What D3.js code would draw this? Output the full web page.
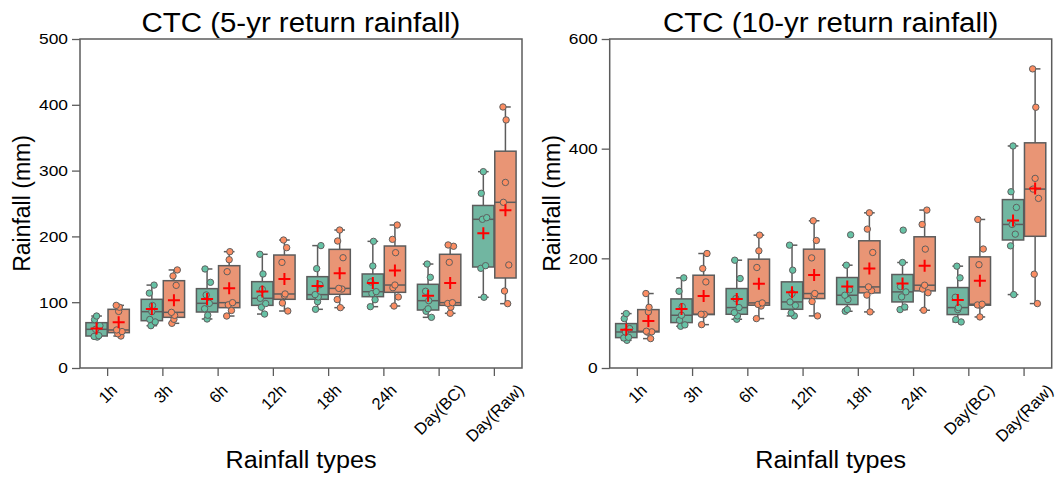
<!DOCTYPE html>
<html><head><meta charset="utf-8">
<script src="https://cdn.jsdelivr.net/npm/d3@7"></script>
<style>
body{margin:0;background:#fff}
svg{display:block}
text{font-family:"Liberation Sans",Arial,sans-serif;fill:#000}
</style>
</head><body>
<svg id="chart" width="1058" height="477"></svg>
<script>
// ---------------- data ----------------
const categories = ["1h","3h","6h","12h","18h","24h","Day(BC)","Day(Raw)"];
const titles = ["CTC (5-yr return rainfall)", "CTC (10-yr return rainfall)"];
const yTicks5 = [0,100,200,300,400,500];
const yTicks10 = [0,200,400,600];
const xLabel = "Rainfall types";
const yLabel = "Rainfall (mm)";

// 5-yr return rainfall, green series (7 stations per type)
const rp5_green = [
  [47, 48, 49.2, 58.8, 64.3, 73.5, 79],
  [64.3, 70, 73.8, 85.6, 95, 113.8, 126],
  [74.5, 80.2, 90, 98.3, 111, 130.2, 150.5],
  [82, 92.4, 98, 105.9, 119.5, 142.9, 172.8],
  [89.2, 100.8, 108, 111.5, 126.6, 151, 186],
  [93.2, 103.8, 113, 116, 130.8, 155, 192.5],
  [77, 86.2, 90, 102.3, 116.6, 137.8, 158],
  [107.5, 151.5, 155.5, 226, 228.5, 265.5, 298.4]
];
// 5-yr return rainfall, orange series
const rp5_orange = [
  [48.6, 52, 55.4, 57.8, 86, 92.4, 95.2],
  [67.9, 74, 80, 84.6, 125.6, 139.8, 149],
  [79, 87.4, 96, 99.3, 146.4, 164.6, 176.8],
  [86.6, 98.8, 110, 112.5, 160.5, 182.9, 194.5],
  [91.7, 104, 120, 121, 167.6, 193, 209.7],
  [94.2, 108, 122, 126.1, 175.3, 195.5, 217.3],
  [83.1, 92.4, 98, 99.3, 160.6, 185, 187],
  [97.8, 117, 156.6, 251.8, 282, 377, 396.7]
];
// 10-yr return rainfall, green series
const rp10_green = [
  [50.5, 54.8, 56, 65.7, 71.9, 90.1, 99.2],
  [76.1, 78.6, 87, 96.2, 112, 140, 164.4],
  [88.9, 95, 101, 110.2, 126.6, 163.2, 196.6],
  [95, 100.2, 114, 120.5, 135.8, 178.4, 224],
  [103.5, 106.6, 124.8, 132.7, 142.5, 187.5, 242.9],
  [106.5, 111.3, 129.7, 138.8, 148.6, 192.4, 251.4],
  [84, 88.3, 106.5, 110.2, 129, 164.4, 185.7],
  [133.9, 222.8, 244.1, 261.8, 292.8, 321.4, 404.9]
];
// 10-yr return rainfall, orange series
const rp10_orange = [
  [53.6, 65.4, 66, 67, 102.3, 110.7, 135.8],
  [79.1, 97, 97.8, 98, 157, 181.4, 208.8],
  [90.1, 113, 116, 118.7, 183.3, 213.7, 242.3],
  [95, 121.2, 132, 135.8, 200.8, 232.6, 268.5],
  [102.3, 133, 141, 147.9, 210.7, 253.3, 283],
  [105.3, 137.2, 144, 151, 216.8, 261.8, 288],
  [93.1, 114, 115, 116.3, 188.4, 217, 270.9],
  [117.5, 171.1, 309.3, 326.3, 345.8, 475.5, 545.5]
];

// ---------------- style / layout ----------------
const boxFill = ["#71b6a1", "#e99575"];
const ptFill = ["#66c2a5", "#fc8d62"];
const lineCol = "#5c5c5c";
const jitterPattern = [0.15,-0.55,0.5,-0.2,0.75,-0.45,0.0];
const Y0 = 39, Y1 = 368;

const panels = [
  {title: titles[0], x0: 80, x1: 522, ymax: 500, ticks: yTicks5, series: [rp5_green, rp5_orange]},
  {title: titles[1], x0: 609.7, x1: 1051.7, ymax: 600, ticks: yTicks10, series: [rp10_green, rp10_orange]}
];

const svg = d3.select("#chart");

function stretch(sel, k){
  sel.each(function(){
    const L = this.getComputedTextLength();
    d3.select(this).attr("textLength", L*k).attr("lengthAdjust","spacingAndGlyphs");
  });
}

function stats(arr){
  const s = arr.slice().sort(d3.ascending);
  const q1 = d3.quantileSorted(s, 0.25), med = d3.quantileSorted(s, 0.5), q3 = d3.quantileSorted(s, 0.75);
  const iqr = q3 - q1;
  const lo = d3.min(s.filter(v => v >= q1 - 1.5*iqr));
  const hi = d3.max(s.filter(v => v <= q3 + 1.5*iqr));
  return {q1, med, q3, lo, hi, mean: d3.mean(s)};
}

panels.forEach(p => {
  const g = svg.append("g");
  const x = d3.scaleBand().domain(categories).range([p.x0, p.x1]).paddingInner(0).paddingOuter(0);
  const y = d3.scaleLinear().domain([0, p.ymax]).range([Y1, Y0]);
  const bw = x.bandwidth();
  const boxW = bw*0.4 - 0.8;
  const cx = c => x(c) + bw/2;

  // y axis
  const ya = g.append("g").attr("transform", `translate(${p.x0},0)`)
    .call(d3.axisLeft(y).tickValues(p.ticks).tickSize(8).tickPadding(4).tickFormat(d3.format("d")));
  ya.select(".domain").remove();
  ya.selectAll(".tick line").attr("stroke", lineCol).attr("stroke-width", 1.3);
  ya.selectAll(".tick text").attr("font-size", 15.5).attr("font-family", '"Liberation Sans",Arial,sans-serif').attr("fill","#111");
  stretch(ya.selectAll(".tick text"), 1.12);

  // x axis
  const xa = g.append("g").attr("transform", `translate(0,${Y1})`)
    .call(d3.axisBottom(x).tickSize(8).tickFormat(""));
  xa.select(".domain").remove();
  xa.selectAll(".tick line").attr("stroke", lineCol).attr("stroke-width", 1.3);
  categories.forEach(c => {
    const t = g.append("text").text(c).attr("font-size", 16.5)
      .attr("text-anchor","middle").attr("dominant-baseline","central").attr("fill","#111");
    const L = t.node().getComputedTextLength();
    const H = 16.5*0.85;
    const bb = (L + H)*0.7071;
    t.attr("transform", `translate(${cx(c)},${Y1 + 14 + bb/2}) rotate(-45)`);
  });

  // frame
  g.append("rect").attr("x", p.x0).attr("y", Y0).attr("width", p.x1 - p.x0).attr("height", Y1 - Y0)
    .attr("fill","none").attr("stroke", lineCol).attr("stroke-width", 1.5);

  // boxes
  p.series.forEach((ser, h) => {
    const off = (h === 0 ? -0.2 : 0.2)*bw;
    ser.forEach((vals, i) => {
      const c = categories[i];
      const xc = cx(c) + off;
      const s = stats(vals);
      const bg = g.append("g");
      bg.append("line").attr("x1", xc).attr("x2", xc).attr("y1", y(s.q3)).attr("y2", y(s.hi))
        .attr("stroke", lineCol).attr("stroke-width", 1.5);
      bg.append("line").attr("x1", xc).attr("x2", xc).attr("y1", y(s.q1)).attr("y2", y(s.lo))
        .attr("stroke", lineCol).attr("stroke-width", 1.5);
      [s.hi, s.lo].forEach(v => bg.append("line").attr("x1", xc - boxW/4).attr("x2", xc + boxW/4)
        .attr("y1", y(v)).attr("y2", y(v)).attr("stroke", lineCol).attr("stroke-width", 1.5));
      bg.append("rect").attr("x", xc - boxW/2).attr("y", y(s.q3)).attr("width", boxW)
        .attr("height", y(s.q1) - y(s.q3)).attr("fill", boxFill[h])
        .attr("stroke", lineCol).attr("stroke-width", 1.5);
      bg.append("line").attr("x1", xc - boxW/2).attr("x2", xc + boxW/2)
        .attr("y1", y(s.med)).attr("y2", y(s.med)).attr("stroke", lineCol).attr("stroke-width", 1.5);
    });
  });
  // points
  p.series.forEach((ser, h) => {
    const off = (h === 0 ? -0.2 : 0.2)*bw;
    ser.forEach((vals, i) => {
      const xc = cx(categories[i]) + off;
      vals.forEach((v, j) => {
        const jt = jitterPattern[(j + i*3 + h*2) % jitterPattern.length]*4.5;
        g.append("circle").attr("cx", xc + jt).attr("cy", y(v)).attr("r", 3.2)
          .attr("fill", ptFill[h]).attr("stroke", "#5f5f5f").attr("stroke-width", 1);
      });
    });
  });
  // means
  p.series.forEach((ser, h) => {
    const off = (h === 0 ? -0.2 : 0.2)*bw;
    ser.forEach((vals, i) => {
      const xc = cx(categories[i]) + off;
      const m = d3.mean(vals);
      g.append("path").attr("d", `M${xc-6},${y(m)}H${xc+6}M${xc},${y(m)-6}V${y(m)+6}`)
        .attr("stroke", "#ff0000").attr("stroke-width", 2).attr("fill","none");
    });
  });

  // titles / labels
  const mid = (p.x0 + p.x1)/2;
  const tt = g.append("text").text(p.title).attr("x", mid).attr("y", 31.5)
    .attr("text-anchor","middle").attr("font-size", 27);
  stretch(tt, 1.09);
  const xl = g.append("text").text(xLabel).attr("x", mid).attr("y", 468)
    .attr("text-anchor","middle").attr("font-size", 23.5);
  stretch(xl, 1.07);
  g.append("text").text(yLabel).attr("transform", `translate(${p.x0 - 50},${(Y0+Y1)/2}) rotate(-90)`)
    .attr("text-anchor","middle").attr("font-size", 23);
});
</script>
</body></html>
